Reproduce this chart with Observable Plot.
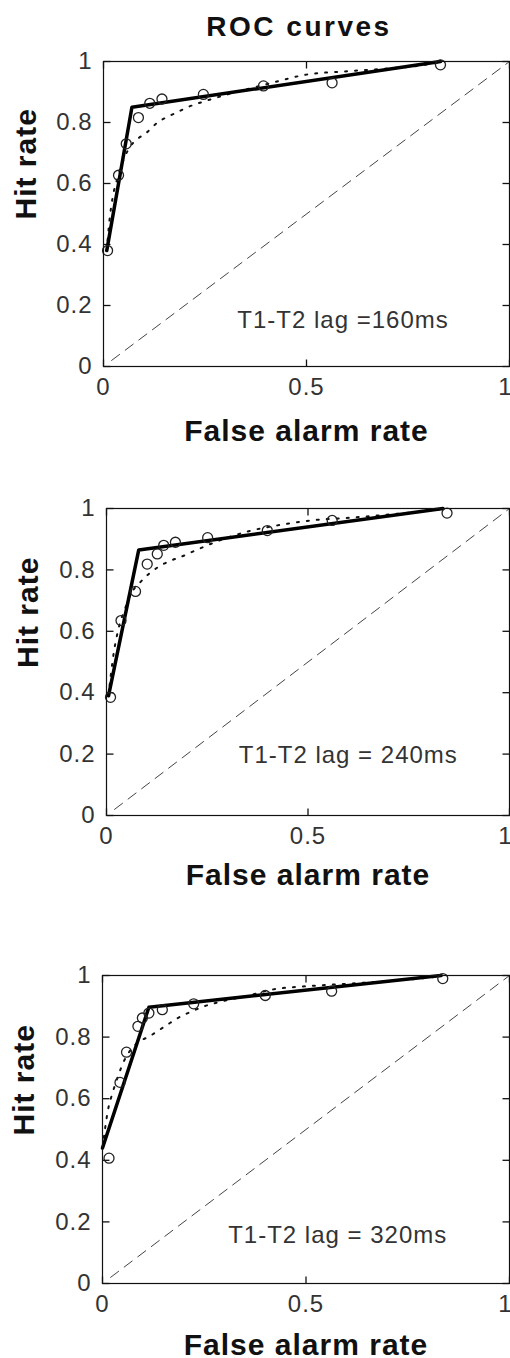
<!DOCTYPE html>
<html>
<head>
<meta charset="utf-8">
<script src="https://cdn.jsdelivr.net/npm/d3@7"></script>
<script src="https://cdn.jsdelivr.net/npm/@observablehq/plot@0.6"></script>
<style>
  html, body { margin: 0; padding: 0; background: #fff; overflow: hidden; }
  #page { position: relative; width: 510px; height: 1358px; }
  #title { position: absolute; top: 13px; left: 299px; transform: translateX(-50%);
    font: bold 28px "Liberation Sans", Arial, sans-serif; line-height: 28px; letter-spacing: 2.5px;
    white-space: nowrap; color: #111; }
</style>
</head>
<body>
<div id="page">
  <div id="title"></div>
</div>
<script>
// ---- tick values ----
const xTicks = [0, 0.5, 1];
const yTicks = [0, 0.2, 0.4, 0.6, 0.8, 1];

// ---- axis / panel labels ----
const titleText = "ROC curves";
const xLabel = "False alarm rate";
const yLabel = "Hit rate";
const lagLabels = ["T1-T2 lag =160ms", "T1-T2 lag = 240ms", "T1-T2 lag = 320ms"];

// ---- chance diagonal ----
const chance = [0.02, 1];

// ---- lag 160 ms ----
const obs160FA  = [0.01, 0.037, 0.056, 0.086, 0.114, 0.144, 0.246, 0.394, 0.563, 0.83];
const obs160Hit = [0.38, 0.627, 0.73, 0.816, 0.863, 0.877, 0.892, 0.92, 0.93, 0.989];
const ht160FA   = [0.008, 0.07, 0.83];
const ht160Hit  = [0.38, 0.85, 1.0];
const sdt160FA  = [0.008, 0.014, 0.022, 0.035, 0.05, 0.065, 0.084, 0.109, 0.133, 0.16, 0.185, 0.207, 0.25, 0.3, 0.35, 0.42, 0.5, 0.6, 0.7, 0.78, 0.83];
const sdt160Hit = [0.38, 0.47, 0.55, 0.62, 0.68, 0.72, 0.746, 0.77, 0.80, 0.82, 0.836, 0.85, 0.87, 0.89, 0.908, 0.932, 0.957, 0.968, 0.977, 0.987, 0.998];

// ---- lag 240 ms ----
const obs240FA  = [0.01, 0.036, 0.072, 0.101, 0.126, 0.142, 0.171, 0.251, 0.399, 0.56, 0.845];
const obs240Hit = [0.385, 0.635, 0.73, 0.819, 0.852, 0.88, 0.89, 0.905, 0.928, 0.961, 0.985];
const ht240FA   = [0.005, 0.08, 0.835];
const ht240Hit  = [0.39, 0.865, 1.0];
const sdt240FA  = [0.005, 0.01, 0.018, 0.03, 0.045, 0.06, 0.084, 0.108, 0.134, 0.159, 0.184, 0.208, 0.25, 0.3, 0.35, 0.424, 0.506, 0.605, 0.688, 0.771, 0.837];
const sdt240Hit = [0.39, 0.45, 0.53, 0.61, 0.67, 0.72, 0.76, 0.79, 0.814, 0.83, 0.842, 0.856, 0.88, 0.905, 0.925, 0.945, 0.961, 0.97, 0.979, 0.989, 0.998];

// ---- lag 320 ms ----
const obs320FA  = [0.016, 0.043, 0.059, 0.087, 0.098, 0.114, 0.147, 0.224, 0.40, 0.563, 0.836];
const obs320Hit = [0.407, 0.653, 0.751, 0.835, 0.862, 0.878, 0.889, 0.908, 0.935, 0.949, 0.99];
const ht320FA   = [0.0, 0.114, 0.832];
const ht320Hit  = [0.44, 0.897, 1.0];
const sdt320FA  = [0.0, 0.006, 0.013, 0.025, 0.04, 0.052, 0.07, 0.09, 0.116, 0.136, 0.159, 0.185, 0.21, 0.25, 0.3, 0.35, 0.42, 0.5, 0.6, 0.7, 0.78, 0.832];
const sdt320Hit = [0.44, 0.5, 0.56, 0.62, 0.68, 0.72, 0.76, 0.785, 0.803, 0.82, 0.84, 0.862, 0.878, 0.9, 0.918, 0.932, 0.955, 0.965, 0.973, 0.982, 0.99, 0.998];

const pts = (xs, ys) => xs.map((x, i) => ({x, y: ys[i]}));
const fmt = d3.format("~g");

const panels = [
  {lag: lagLabels[0], obs: pts(obs160FA, obs160Hit), ht: pts(ht160FA, ht160Hit), sdt: pts(sdt160FA, sdt160Hit),
   top: 40, marginLeft: 103, frameH: 305, marginBottom: 80, xdy: 74, ydx: -68, ydy: 5.5, note: [0.59, 0.125]},
  {lag: lagLabels[1], obs: pts(obs240FA, obs240Hit), ht: pts(ht240FA, ht240Hit), sdt: pts(sdt240FA, sdt240Hit),
   top: 487, marginLeft: 106, frameH: 307, marginBottom: 80, xdy: 69, ydx: -69, ydy: 6, note: [0.6, 0.17]},
  {lag: lagLabels[2], obs: pts(obs320FA, obs320Hit), ht: pts(ht320FA, ht320Hit), sdt: pts(sdt320FA, sdt320Hit),
   top: 954, marginLeft: 102, frameH: 308, marginBottom: 75, xdy: 71, ydx: -69, ydy: 6, note: [0.578, 0.13]}
];

const page = document.getElementById("page");
document.getElementById("title").textContent = titleText;

const TICK = 7; // tick length in pixels
for (const p of panels) {
  const marginTop = 21, marginRight = 1, width = 510;
  const frameW = width - p.marginLeft - marginRight;
  const kx = TICK / frameW;   // tick length in x units
  const ky = TICK / p.frameH; // tick length in y units
  const tk = {stroke: "#111", strokeWidth: 1.3};
  const chart = Plot.plot({
    width,
    height: marginTop + p.frameH + p.marginBottom,
    marginLeft: p.marginLeft,
    marginRight,
    marginTop,
    marginBottom: p.marginBottom,
    x: {domain: [0, 1]},
    y: {domain: [0, 1]},
    style: {background: "transparent", fontFamily: "'Liberation Sans', Arial, sans-serif", fontSize: "24px", letterSpacing: "1px", overflow: "visible"},
    marks: [
      // tick labels
      Plot.axisX({anchor: "bottom", ticks: xTicks.filter(d => d < 1), tickSize: 0, tickPadding: 11, tickFormat: fmt, label: null, fill: "#333"}),
      Plot.axisX({anchor: "bottom", ticks: xTicks.filter(d => d >= 1), tickSize: 0, tickPadding: 11, dx: -4, tickFormat: fmt, label: null, fill: "#333"}),
      Plot.axisY({anchor: "left", ticks: yTicks, tickSize: 0, tickPadding: 11, tickFormat: fmt, label: null, fill: "#333"}),
      // inward tick marks on all four sides
      Plot.link(xTicks, {...tk, x1: d => d, x2: d => d, y1: () => 0, y2: () => ky}),
      Plot.link(xTicks, {...tk, x1: d => d, x2: d => d, y1: () => 1, y2: () => 1 - ky}),
      Plot.link(yTicks, {...tk, y1: d => d, y2: d => d, x1: () => 0, x2: () => kx}),
      Plot.link(yTicks, {...tk, y1: d => d, y2: d => d, x1: () => 1, x2: () => 1 - kx}),
      // chance line, fitted curves, data
      Plot.line(chance.map(v => [v, v]), {stroke: "#444", strokeWidth: 1, strokeDasharray: "10,7"}),
      Plot.line(p.sdt, {x: "x", y: "y", curve: "monotone-x", stroke: "#111", strokeWidth: 2, strokeDasharray: "2,8"}),
      Plot.line(p.ht, {x: "x", y: "y", stroke: "#000", strokeWidth: 3.5, strokeLinejoin: "round"}),
      Plot.dot(p.obs, {x: "x", y: "y", r: 5, stroke: "#222", strokeWidth: 1.3, fill: "none"}),
      Plot.text([p.lag], {x: () => p.note[0], y: () => p.note[1], text: d => d, lineAnchor: "bottom", fill: "#333"}),
      Plot.frame({stroke: "#111", strokeWidth: 1.2}),
      Plot.text([xLabel], {text: d => d, frameAnchor: "bottom", dy: p.xdy, lineAnchor: "bottom", fontSize: 30, fontWeight: "bold", fill: "#111"}),
      Plot.text([yLabel], {text: d => d, frameAnchor: "left", rotate: -90, dx: p.ydx, dy: p.ydy, lineAnchor: "bottom", fontSize: 30, fontWeight: "bold", fill: "#111"})
    ]
  });
  chart.style.position = "absolute";
  chart.style.left = "0px";
  chart.style.top = p.top + "px";
  page.appendChild(chart);
}
</script>
</body>
</html>
